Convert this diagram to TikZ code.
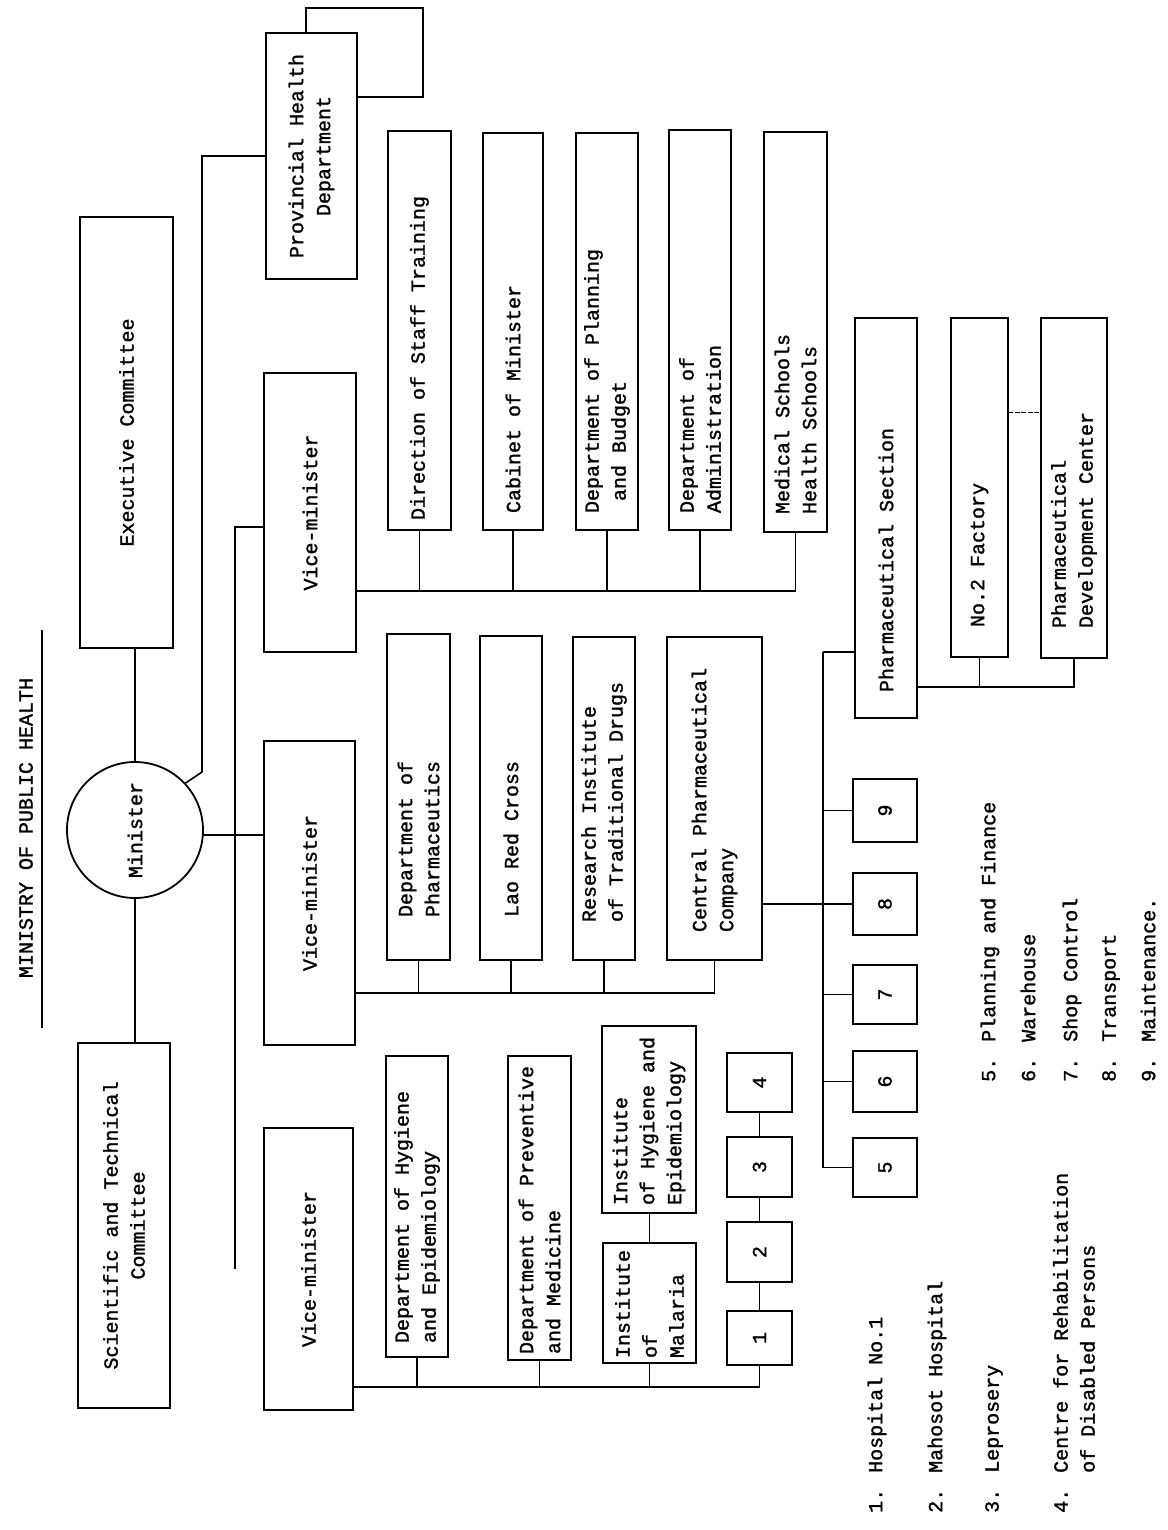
\documentclass[tikz,border=0pt]{standalone}
\usepackage{fontspec}
\setmainfont{Liberation Mono}[FakeBold=1.4]
\usepackage{graphicx}

% \orgbox{name}{x1}{y1}{x2}{y2}{pad}{alignment}{text}
% A framed box spanning (x1,y1)-(x2,y2); its text runs bottom-to-top.
\newcommand\orgbox[8]{%
  \pgfmathsetmacro\obW{#4-#2}%
  \pgfmathsetmacro\obH{#5-#3}%
  \pgfmathsetmacro\obT{#5-#3-2*#6}%
  \pgfmathsetmacro\obX{(#2+#4)/2}%
  \pgfmathsetmacro\obY{(#3+#5)/2}%
  \node[obox, minimum width=\obW pt, minimum height=\obH pt] (#1) at (\obX,\obY)
    {\rotatebox{90}{\parbox{\obT pt}{#7#8}}};%
}

\begin{document}
\begin{tikzpicture}[x=1pt,y=-1pt,
  every node/.style={font=\fontsize{20}{27}\selectfont},
  obox/.style={draw, rectangle, line width=1.8pt, inner sep=0pt, outer sep=0pt},
  link/.style={line width=1.6pt},
  legend/.style={rotate=90, anchor=west, inner sep=0pt, align=left}]
\useasboundingbox (0,0) rectangle (1167,1530);

% ---------- heading ----------
\node[rotate=90, inner sep=0pt] (title) at (26,828) {MINISTRY OF PUBLIC HEALTH};
\coordinate (ulA) at (42,630);
\coordinate (ulB) at (42,1028);
\draw[link] (ulA) -- (ulB);

% ---------- top level ----------
\orgbox{prov}{266}{33}{357}{279}{6}{\centering}{Provincial Health\\Department}
\orgbox{exec}{80}{217}{173}{648}{10}{\centering}{Executive Committee}
\node[draw, circle, line width=1.8pt, minimum size=136pt, inner sep=0pt, outer sep=0pt]
  (minister) at (135,830) {\rotatebox{90}{Minister}};
\orgbox{sci}{78}{1043}{170}{1408}{10}{\centering}{Scientific and Technical\\Committee}

\orgbox{vmC}{264}{373}{356}{652}{10}{\centering}{Vice-minister}
\orgbox{vmB}{264}{741}{355}{1045}{10}{\centering}{Vice-minister}
\orgbox{vmA}{264}{1128}{353}{1410}{10}{\centering}{Vice-minister}

% ---------- third vice-minister ----------
\orgbox{dst}{388}{131}{451}{530}{10}{\raggedright}{Direction of Staff Training}
\orgbox{cab}{483}{133}{543}{530}{17}{\raggedright}{Cabinet of Minister}
\orgbox{dpb}{576}{133}{638}{530}{17}{\raggedright}{Department of Planning\\\hspace*{12pt}and Budget}
\orgbox{dad}{669}{130}{731}{530}{17}{\raggedright}{Department of\\Administration}
\orgbox{msch}{764}{132}{827}{532}{18}{\raggedright}{Medical Schools\\Health Schools}

% ---------- second vice-minister ----------
\orgbox{dph}{387}{634}{450}{960}{43}{\raggedright}{Department of\\Pharmaceutics}
\orgbox{lrc}{480}{636}{542}{960}{43}{\raggedright}{Lao Red Cross}
\orgbox{ritd}{573}{637}{635}{960}{38}{\raggedright}{Research Institute\\of Traditional Drugs}
\orgbox{cpc}{667}{637}{762}{960}{28}{\raggedright}{Central Pharmaceutical\\Company}

% ---------- first vice-minister ----------
\orgbox{dhe}{386}{1056}{448}{1357}{14}{\raggedright}{Department of Hygiene\\and Epidemiology}
\orgbox{dpm}{508}{1056}{571}{1360}{6}{\raggedright}{Department of Preventive\\and Medicine}
\orgbox{imal}{603}{1243}{696}{1363}{5}{\raggedright}{Institute\\of\\Malaria}
\orgbox{ihe}{602}{1026}{696}{1213}{8}{\raggedright}{Institute\\of Hygiene and\\Epidemiology}

% numbered hospitals
\orgbox{hA}{727}{1311}{792}{1365}{0}{\centering}{1}
\orgbox{hB}{727}{1222}{792}{1282}{0}{\centering}{2}
\orgbox{hC}{727}{1137}{792}{1197}{0}{\centering}{3}
\orgbox{hD}{727}{1053}{792}{1112}{0}{\centering}{4}

% ---------- pharmaceutical company ----------
\orgbox{uI}{853}{779}{917}{842}{0}{\centering}{9}
\orgbox{uH}{853}{873}{917}{935}{0}{\centering}{8}
\orgbox{uG}{853}{965}{917}{1024}{0}{\centering}{7}
\orgbox{uF}{853}{1051}{917}{1112}{0}{\centering}{6}
\orgbox{uE}{853}{1138}{917}{1197}{0}{\centering}{5}

\orgbox{psec}{855}{318}{917}{718}{26}{\raggedright}{Pharmaceutical Section}
\orgbox{fac}{951}{318}{1008}{657}{30}{\raggedright}{No.2 Factory}
\orgbox{pdc}{1041}{318}{1107}{658}{30}{\raggedright}{Pharmaceutical\\Development Center}

% ---------- connectors ----------
\draw[link] (minister.north |- exec.south) -- (minister.north);
\draw[link] (minister.south) -- (minister.south |- sci.north);

% to the provincial department, with its return loop
\coordinate (provbend) at (202,772);
\draw[link] (minister.43) -- (provbend) -- (provbend |- prov.west) -- (prov.west);
\coordinate (loopA) at (306,8);
\coordinate (loopB) at (423,97);
\draw[link] (prov.north -| loopA) -- (loopA) -- (loopA -| loopB) -- (loopB) -- (loopB -| prov.east);

% minister to the vice-ministers
\coordinate (vj) at (235,835);
\coordinate (vtop) at (235,527);
\draw[link] (minister.east |- vj) -- (vj -| vmB.west);
\draw[link] (vj) -- (vtop) -- (vtop -| vmC.west);
\draw[link] (vj) -- (vj |- vmA.west);

% third vice-minister bus
\coordinate (busC) at (0,591);
\draw[link] (vmC.east |- busC) -- (msch.south |- busC) -- (msch.south);
\foreach \n in {dst,cab,dpb,dad}
  \draw[link] (\n.south) -- (\n.south |- busC);

% second vice-minister bus
\coordinate (busB) at (0,993);
\draw[link] (vmB.east |- busB) -- (cpc.south |- busB) -- (cpc.south);
\foreach \n in {dph,lrc,ritd}
  \draw[link] (\n.south) -- (\n.south |- busB);

% first vice-minister bus
\coordinate (busA) at (0,1387);
\draw[link] (vmA.east |- busA) -- (hA.south |- busA) -- (hA.south);
\foreach \n in {dhe,dpm,imal}
  \draw[link] (\n.south) -- (\n.south |- busA);
\draw[link] (imal.north) -- (imal.north |- ihe.south);
\draw[link] (hA.north) -- (hB.south);
\draw[link] (hB.north) -- (hC.south);
\draw[link] (hC.north) -- (hD.south);

% pharmaceutical company branches
\coordinate (spine) at (823,652);
\draw[link] (cpc.east |- uH.west) -- (uH.west);
\draw[link] (spine) -- (spine -| psec.west);
\draw[link] (spine) -- (spine |- uE.west) -- (uE.west);
\foreach \n in {uI,uG,uF}
  \draw[link] (spine |- \n.west) -- (\n.west);

% pharmaceutical section bus
\coordinate (busP) at (0,687);
\draw[link] (psec.east |- busP) -- (pdc.south |- busP) -- (pdc.south);
\draw[link] (fac.south) -- (fac.south |- busP);
\coordinate (tie) at (0,412);
\draw[line width=1pt, dash pattern=on 5pt off 1.5pt] (fac.east |- tie) -- (pdc.west |- tie);

% ---------- key ----------
\node[legend] (kA) at (877,1513) {1. Hospital No.1};
\node[legend] (kB) at (937,1513) {2. Mahosot Hospital};
\node[legend] (kC) at (994,1513) {3. Leprosery};
\node[legend] (kD) at (1074,1513) {4. Centre for Rehabilitation\\\phantom{4. }of Disabled Persons};

\node[legend] (kE) at (990,1082) {5. Planning and Finance};
\node[legend] (kF) at (1028,1082) {6. Warehouse};
\node[legend] (kG) at (1072,1082) {7. Shop Control};
\node[legend] (kH) at (1111,1082) {8. Transport};
\node[legend] (kI) at (1148,1082) {9. Maintenance.};
\end{tikzpicture}
\end{document}
